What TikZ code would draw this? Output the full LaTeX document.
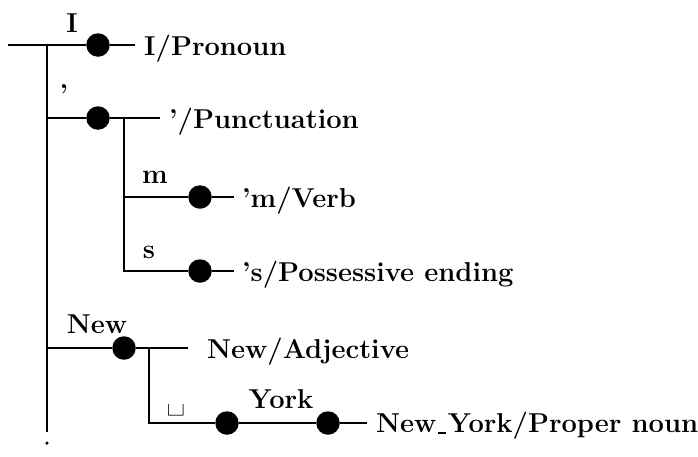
\documentclass[tikz,border=0pt]{standalone}
\newcommand{\cmus}{\kern.06em\rule[-0.06em]{0.3em}{0.07em}\kern.06em}
\tikzset{
  dot/.style={circle,fill=black,draw=none,minimum size=23.5pt,inner sep=0pt},
  enddot/.style={circle,fill=black,draw=none,minimum size=3.5pt,inner sep=0pt},
  lbl/.style={font=\fontsize{27.3}{31}\selectfont\bfseries,inner sep=0pt,anchor=base},
  txt/.style={font=\fontsize{27.3}{31}\selectfont\bfseries,inner sep=0pt,anchor=base west},
  edge/.style={line width=1.4pt}
}
\begin{document}
\begin{tikzpicture}[x=1pt,y=-1pt]
\useasboundingbox (0,0) rectangle (698,456);
% root
\coordinate (r0) at (8,45);
\coordinate (j1) at (47,45);
\node[dot] (dI) at (98,45) {};
\coordinate (eI) at (135,45);
\node[txt] (tI) at (144,55) {I/Pronoun};
\node[lbl] (lI) at (72,32) {I};
\draw[edge] (r0) -- (dI) -- (eI);
% main vertical
\coordinate (mb) at (47,432);
\node[enddot] (mend) at (47,443) {};
\draw[edge] (j1) -- (mb);
% apostrophe branch
\coordinate (jA) at (47,118);
\node[dot] (dA) at (98,118) {};
\coordinate (eA) at (160,118);
\coordinate (sA) at (124,118);
\node[lbl] (lA) at (64,103) {'};
\node[txt] (tA) at (169,128) {'/Punctuation};
\draw[edge] (jA) -- (dA) -- (eA);
% m
\coordinate (sM) at (124,197);
\node[dot] (dM) at (200,197) {};
\coordinate (eM) at (234,197);
\node[lbl] (lM) at (155,183) {m};
\node[txt] (tM) at (242,207) {'m/Verb};
\draw[edge] (sM) -- (dM) -- (eM);
% s
\coordinate (sS) at (124,271);
\node[dot] (dS) at (200,271) {};
\coordinate (eS) at (234,271);
\node[lbl] (lS) at (149,258) {s};
\node[txt] (tS) at (242,281) {'s/Possessive ending};
\draw[edge] (sA) -- (sS) -- (dS) -- (eS);
% New
\coordinate (jN) at (47,348);
\node[dot] (dN) at (124,348) {};
\coordinate (sN) at (149,348);
\coordinate (eN) at (188,348);
\node[lbl] (lN) at (97,333) {New};
\node[txt] (tN) at (207,358) {New/Adjective};
\draw[edge] (jN) -- (dN) -- (eN);
% space / York
\coordinate (sY) at (149,423);
\node[dot] (dY1) at (227,423) {};
\node[dot] (dY2) at (328,423) {};
\coordinate (eY) at (367,423);
\node[lbl,font=\fontsize{33}{36}\selectfont\bfseries] (lSp) at (176,412) {\textvisiblespace};
\node[lbl] (lY) at (281,408) {York};
\node[txt] (tY) at (376,432) {New\cmus York/Proper noun};
\draw[edge] (sN) -- (sY) -- (dY1) -- (dY2) -- (eY);
\end{tikzpicture}
\end{document}
